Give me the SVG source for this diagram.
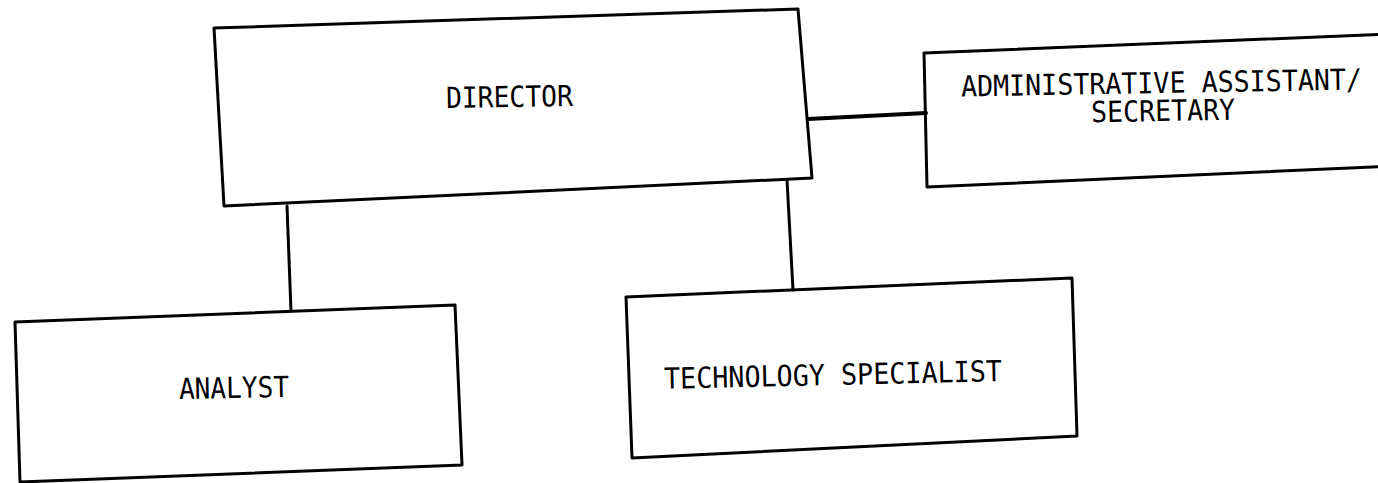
<svg xmlns="http://www.w3.org/2000/svg" width="1378" height="483" viewBox="0 0 1378 483">
<style>
.box{fill:none;stroke:#000;stroke-width:3;stroke-linejoin:round}
.conn{fill:none;stroke:#000;stroke-width:3;stroke-linecap:round}
.thick{stroke-width:4}
.lbl{font-family:"DejaVu Sans Mono","Liberation Mono",monospace;font-size:29px;fill:#000}
</style>
<rect width="1378" height="483" fill="#fff"/>
<g id="connectors">
<line class="conn" x1="287" y1="206" x2="291" y2="311"/>
<line class="conn" x1="787" y1="180" x2="793" y2="290"/>
<line class="conn thick" x1="808" y1="119" x2="926" y2="113"/>
</g>
<g id="director">
<polygon class="box" points="214,28 798,9 812,178 224,206"/>
<text class="lbl" x="446" y="107" textLength="127" lengthAdjust="spacingAndGlyphs" transform="rotate(-1 509 100)">DIRECTOR</text>
</g>
<g id="admin">
<polygon class="box" points="924,53 1392,34 1392,166 927,187"/>
<text class="lbl" x="961" y="93" textLength="401" lengthAdjust="spacingAndGlyphs" transform="rotate(-1 1161 85)">ADMINISTRATIVE ASSISTANT/</text>
<text class="lbl" x="1091" y="121" textLength="144" lengthAdjust="spacingAndGlyphs" transform="rotate(-1 1162 113)">SECRETARY</text>
</g>
<g id="analyst">
<polygon class="box" points="15,322 455,305 462,465 20,482"/>
<text class="lbl" x="179" y="398" textLength="110" lengthAdjust="spacingAndGlyphs" transform="rotate(-1 233 390)">ANALYST</text>
</g>
<g id="tech">
<polygon class="box" points="626,297 1072,278 1077,436 632,458"/>
<text class="lbl" x="664" y="385" textLength="338" lengthAdjust="spacingAndGlyphs" transform="rotate(-1.3 832 377)">TECHNOLOGY SPECIALIST</text>
</g>
</svg>
